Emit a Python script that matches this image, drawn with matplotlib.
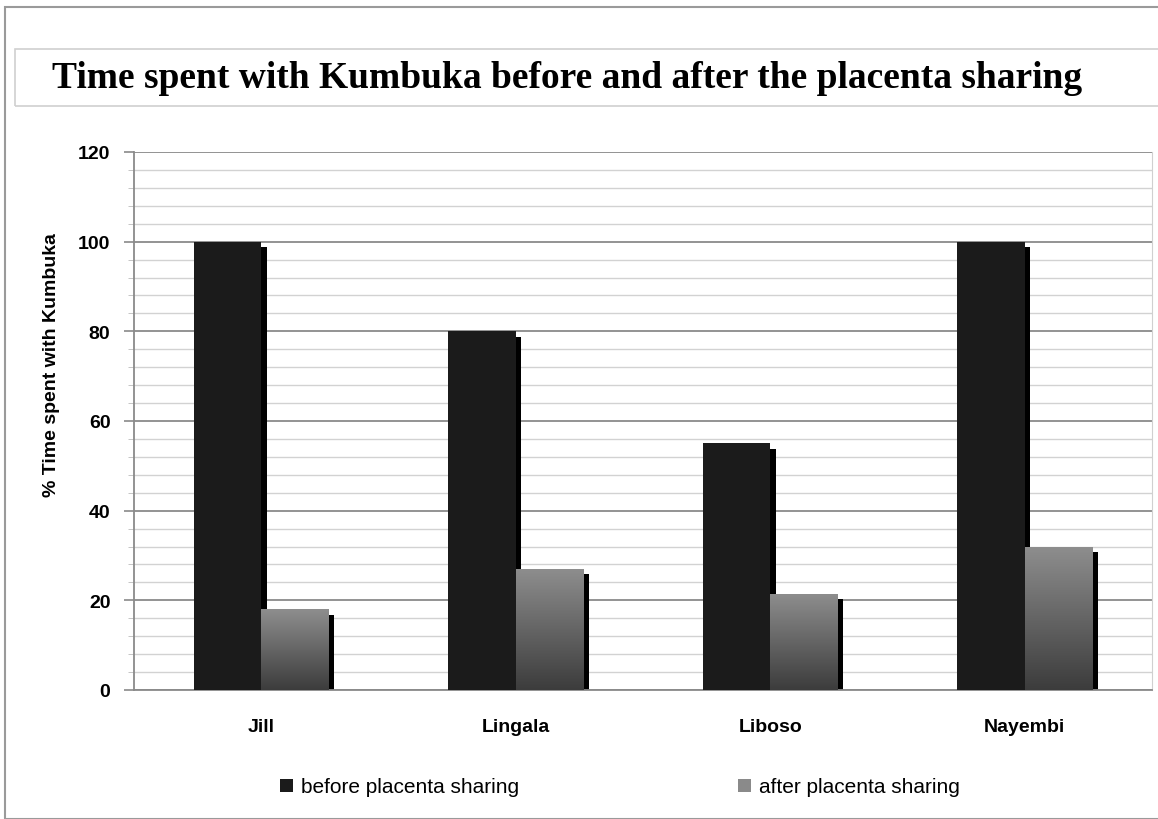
import numpy as np
import matplotlib
matplotlib.use("Agg")
import matplotlib.pyplot as plt
from matplotlib.patches import Rectangle
from matplotlib.ticker import MultipleLocator

# ── Data ───────────────────────────────────────────────────────
names = ["Jill", "Lingala", "Liboso", "Nayembi"]
before = [100, 80, 55, 100]
after = [18, 27, 21.5, 32]
series_labels = ["before placenta sharing", "after placenta sharing"]

W, H = 1158, 820
fig = plt.figure(figsize=(W / 100, H / 100), dpi=100)

# outer frame and title box (figure pixel coords)
fig.patches.append(Rectangle((5 / W, 0), 1, (H - 8) / H, transform=fig.transFigure,
                             fill=False, ec="#9a9a9a", lw=1.5))
fig.patches.append(Rectangle((15 / W, (H - 107) / H), 1, 57 / H, transform=fig.transFigure,
                             fill=False, ec="#d0d0d0", lw=1.2))
fig.text(567 / W, (H - 79) / H, "Time spent with Kumbuka before and after the placenta sharing",
         ha="center", va="center", fontsize=27, fontweight="bold",
         family="Liberation Serif")

ax = fig.add_axes([134 / W, 129 / H, 1018 / W, 538 / H])
x = np.arange(len(names))
w = 0.265
off = 0.133

# gridlines
ax.yaxis.set_major_locator(MultipleLocator(20))
ax.yaxis.set_minor_locator(MultipleLocator(4))
ax.grid(axis="y", which="major", color="#8a8a8a", lw=1.3, zorder=0)
ax.grid(axis="y", which="minor", color="#d2d2d2", lw=1.0, zorder=0)
ax.set_axisbelow(True)

# shadows
for xi, b, a in zip(x, before, after):
    ax.bar(xi - off + w / 2, b - 1.2, width=0.022, align="edge", color="black", zorder=2)
    ax.bar(xi + off + w / 2, a - 1.2, width=0.022, align="edge", color="black", zorder=2)

# before bars
ax.bar(x - off, before, width=w, color="#1b1b1b", zorder=3, label=series_labels[0])

# after bars with vertical gradient
grad = np.linspace(0, 1, 256).reshape(-1, 1)
cmap = matplotlib.colors.LinearSegmentedColormap.from_list("g", ["#3c3c3c", "#8e8e8e"])
bars = ax.bar(x + off, after, width=w, color="#8a8a8a", zorder=3, label=series_labels[1])
for bar in bars:
    bx, by = bar.get_x(), bar.get_y()
    bw, bh = bar.get_width(), bar.get_height()
    im = ax.imshow(grad, cmap=cmap, aspect="auto", origin="lower",
                   extent=(bx, bx + bw, by, by + bh), zorder=3.5)
    im.set_clip_path(bar)
ax.set_xlim(-0.5, 3.5)
ax.set_ylim(0, 120)

# axes styling
ax.spines["top"].set_visible(False)
ax.spines["left"].set_color("#8a8a8a")
ax.spines["bottom"].set_color("#8a8a8a")
ax.spines["right"].set_color("#d0d0d0")
ax.spines["left"].set_linewidth(1.3)
ax.spines["bottom"].set_linewidth(1.3)
ax.tick_params(axis="y", which="major", length=7, color="#8a8a8a", width=1.2, pad=10,
               labelsize=14)
ax.tick_params(axis="y", which="minor", length=4, color="#bbbbbb")
ax.tick_params(axis="x", length=0, pad=20, labelsize=14)
ax.set_xticks(x)
ax.set_xticklabels(names)
for lab in ax.get_xticklabels() + ax.get_yticklabels():
    lab.set_family("Liberation Sans")
    lab.set_fontweight("bold")

ax.set_ylabel("% Time spent with Kumbuka", fontsize=14, fontweight="bold",
              family="Liberation Sans")
ax.yaxis.set_label_coords(-0.073, 0.606)

leg = fig.legend(loc="center", bbox_to_anchor=(620 / W, (H - 788) / H), ncol=2,
                 frameon=False, handlelength=0.6, handleheight=0.6, handletextpad=0.4,
                 columnspacing=10.5, prop={"family": "Liberation Sans", "size": 15})

fig.savefig("out.png", dpi=100)
